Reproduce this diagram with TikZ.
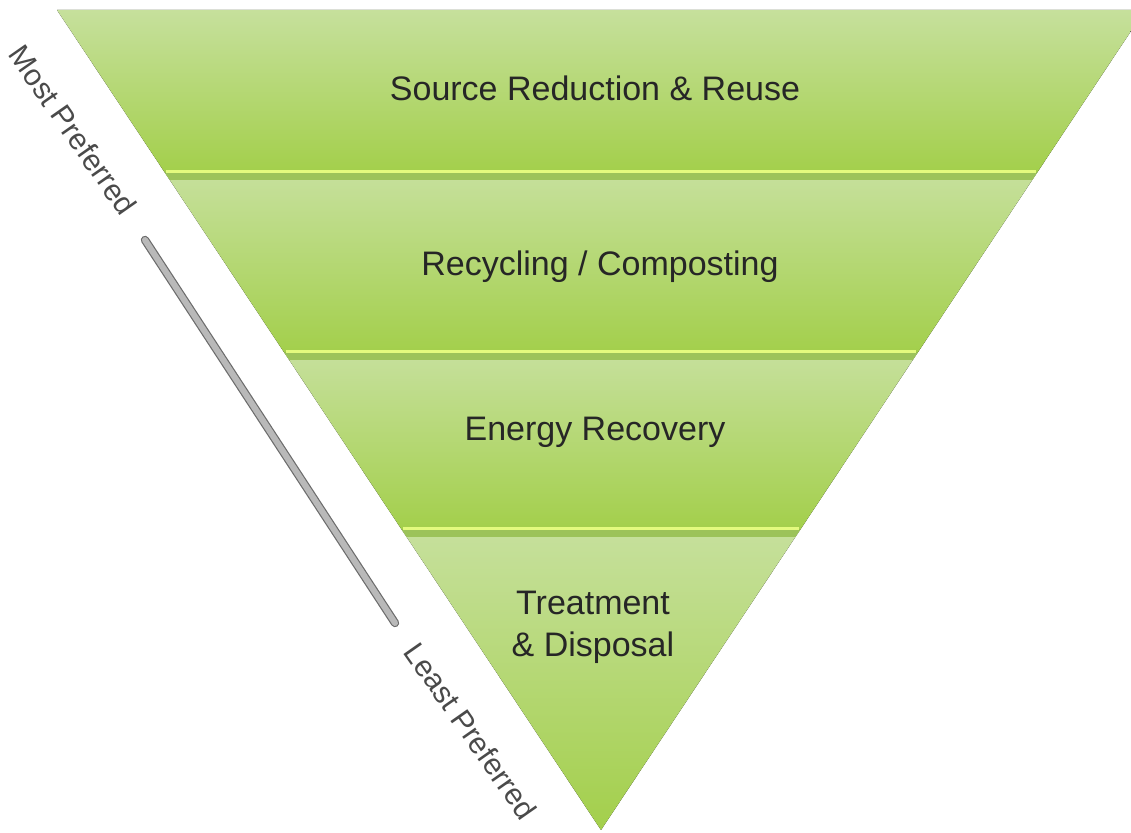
\documentclass[tikz,border=0pt]{standalone}
\usepackage{fontspec}
\setmainfont{Liberation Sans}
\usetikzlibrary{calc}
\definecolor{bandtop}{HTML}{C6E09C}
\definecolor{bandbot}{HTML}{A3CF4B}
\definecolor{bandseam}{HTML}{9CC35A}
\definecolor{bandglow}{HTML}{E3FA7E}
\definecolor{labelgray}{HTML}{4A4A4A}

\begin{document}
\begin{tikzpicture}[
    x=0.5pt, y=-0.5pt,
    band/.style={top color=bandtop, bottom color=bandbot},
    seam/.style={fill=bandseam},
    glow/.style={draw=bandglow, line width=1.5pt},
    tier/.style={font=\fontsize{17}{21}\selectfont, text=black!85, align=center},
    pref/.style={font=\fontsize{15}{18}\selectfont, text=labelgray, rotate=-55},
    scaleline/.style={draw=gray!85!black, line width=0.6pt, double=gray!55,
                      double distance=3pt, line cap=round},
]
\useasboundingbox (0,0) rectangle (1131,833);
\clip (0,0) rectangle (1131,833);
% bands of the inverted pyramid (top/bottom in px)
\foreach \t/\b in {10/173, 173/353, 353/530, 530/830}{
  \pgfmathsetmacro\xlt{57+0.6634*(\t-10)}
  \pgfmathsetmacro\xrt{1145-0.6634*(\t-10)}
  \pgfmathsetmacro\xlb{57+0.6634*(\b-10)}
  \pgfmathsetmacro\xrb{1145-0.6634*(\b-10)}
  \fill[band] (\xlt,\t) -- (\xrt,\t) -- (\xrb,\b) -- (\xlb,\b) -- cycle;
}
% seams between the bands
\foreach \b in {173, 353, 530}{
  \pgfmathsetmacro\xla{57+0.6634*(\b-10)}
  \pgfmathsetmacro\xra{1145-0.6634*(\b-10)}
  \pgfmathsetmacro\xlc{57+0.6634*(\b-3)}
  \pgfmathsetmacro\xrc{1145-0.6634*(\b-3)}
  \fill[seam] (\xla,\b) -- (\xra,\b) -- (\xrc,\b+7) -- (\xlc,\b+7) -- cycle;
  \draw[glow] (\xla+1,\b-1.5) -- (\xra-1,\b-1.5);
}
\node[tier] (src) at (595,88) {Source Reduction \& Reuse};
\node[tier] (rec) at (600,267) {Recycling / Composting};
\node[tier] (enr) at (595,432) {Energy Recovery};
\node[tier] (trt) at (593,627) {Treatment\\\& Disposal};
\node[pref] (most) at (73,130) {Most Preferred};
\node[pref] (least) at (471,731) {Least Preferred};
\coordinate (scaletop) at (145,240);
\coordinate (scalebot) at (395,623);
\draw[scaleline] (scaletop) -- (scalebot);
\end{tikzpicture}
\end{document}
